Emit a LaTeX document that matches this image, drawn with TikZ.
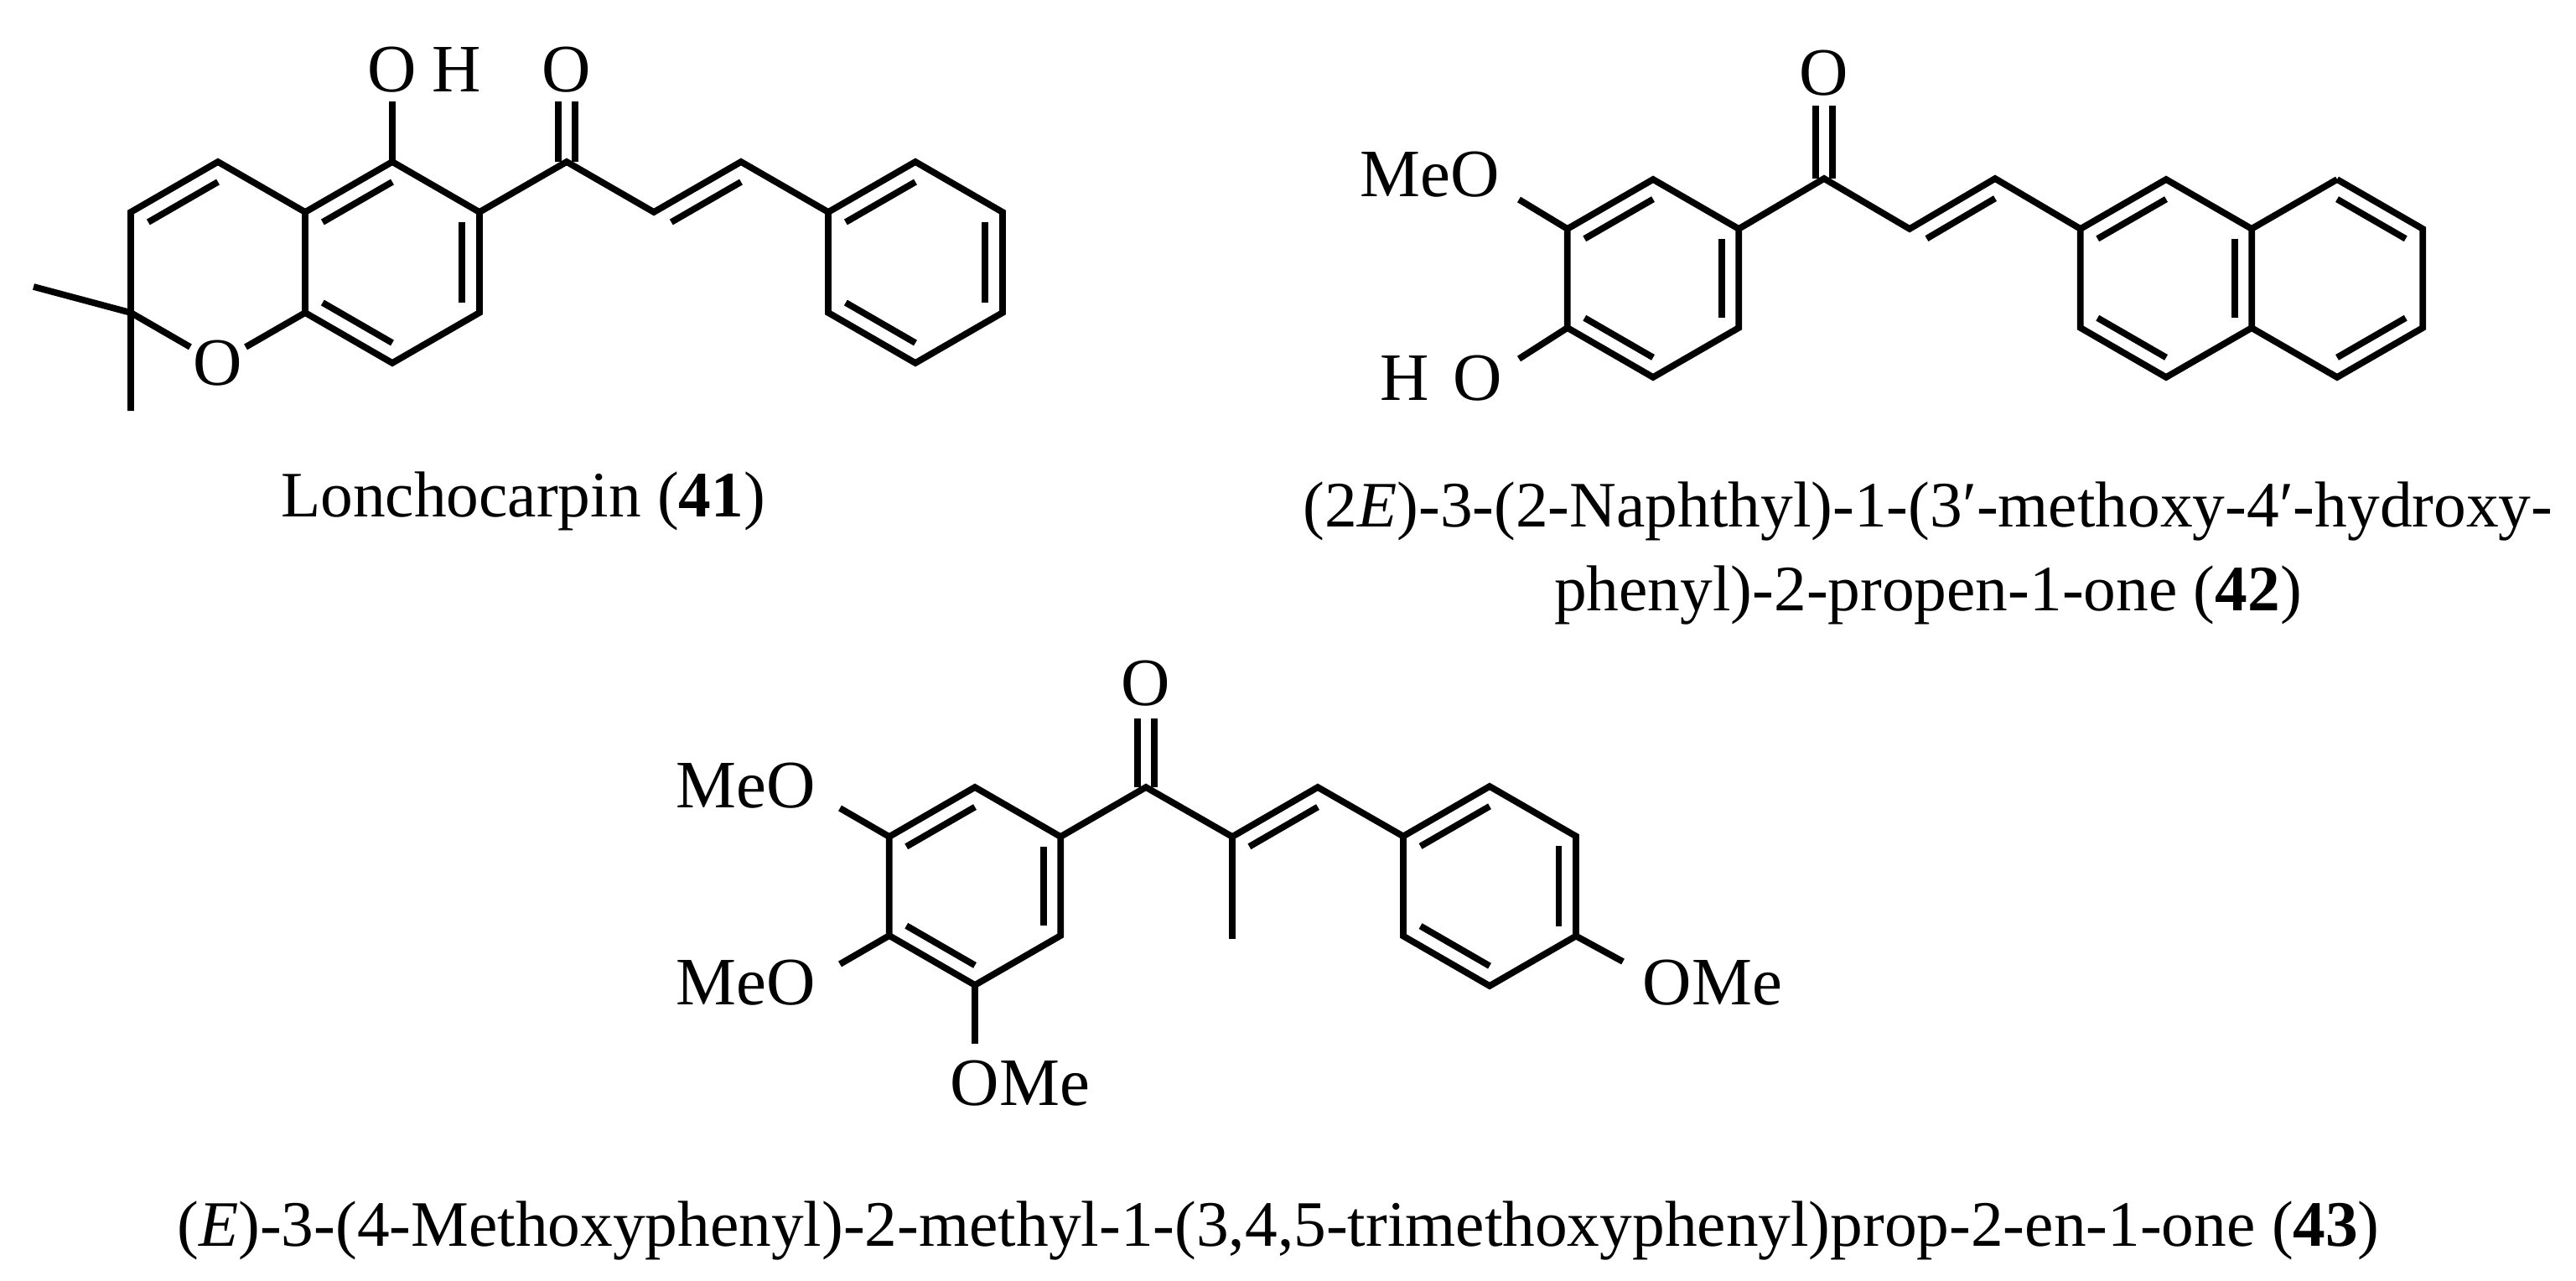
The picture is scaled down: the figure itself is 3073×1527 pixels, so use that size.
\documentclass[tikz,border=0pt]{standalone}
\usepackage{fontspec}
\setmainfont{Liberation Serif}
\usetikzlibrary{calc}
\newcommand\hexring[4]{%
\path (#2,#3) coordinate (#1c) +(0,-#4) coordinate (#11) +({0.866*#4},{-0.5*#4}) coordinate (#12)
 +({0.866*#4},{0.5*#4}) coordinate (#13) +(0,#4) coordinate (#14)
 +({-0.866*#4},{0.5*#4}) coordinate (#15) +({-0.866*#4},{-0.5*#4}) coordinate (#16);}
\newcommand\inb[3]{\draw ($(#1)!0.2!(#3)$) -- ($(#2)!0.2!(#3)$);}
\newcommand\cdo[2]{\draw ($(#1)+(-10,0)$) -- ($(#2)+(-10,0)$); \draw ($(#1)+(10,0)$) -- ($(#2)+(10,0)$);}
\tikzset{atom/.style={inner sep=0pt,font=\fontsize{23}{26}\selectfont},
 captext/.style={inner sep=0pt,align=center,font=\fontsize{22}{40}\selectfont}}
\begin{document}
\begin{tikzpicture}[x=0.01cm,y=-0.01cm,line width=2.2pt,line join=miter]
\useasboundingbox (0,0) rectangle (3073,1527);
% ---------- 41 ----------
\hexring{A}{468}{313}{120}
\hexring{P}{260}{313}{120}
\hexring{F}{1092}{313}{120}
\coordinate (co41) at (676,193);
\coordinate (al41) at (780,253);
\coordinate (be41) at (884,193);
\coordinate (bec41) at (884,313);
\node[atom] (o41) at (P4) {O};
\draw (A1)--(A2)--(A3)--(A4)--(A5)--(A6)--cycle;
\inb{A6}{A1}{Ac}\inb{A2}{A3}{Ac}\inb{A5}{A4}{Ac}
\draw (A6)--(P1)--(P6)--(P5);
\inb{P6}{P1}{Pc}
\draw (P5)--(o41); \draw (o41)--(A5);
\coordinate (me1) at (40,342); \coordinate (me2) at (156,490);
\draw (me1)--(P5)--(me2);
\coordinate (ohb) at (468,121);
\draw (A1)--(ohb);
\node[atom] (oh41) at (468,83) {O};
\node[atom] (h41) at (545,83) {H};
\coordinate (cot41) at (676,121);
\cdo{co41}{cot41}
\node[atom] (ox41) at (676,83) {O};
\draw (A2)--(co41)--(al41)--(be41)--(F6);
\inb{al41}{be41}{bec41}
\draw (F1)--(F2)--(F3)--(F4)--(F5)--(F6)--cycle;
\inb{F6}{F1}{Fc}\inb{F2}{F3}{Fc}\inb{F5}{F4}{Fc}
\node[captext] (cap41) at (624,598) {Lonchocarpin (\textbf{41})};
% ---------- 42 ----------
\hexring{B}{1972}{332}{118}
\hexring{N}{2584}{332}{118}
\hexring{M}{2788}{332}{118}
\coordinate (co42) at (2176,213);
\coordinate (al42) at (2278,273);
\coordinate (be42) at (2380,213);
\coordinate (bec42) at (2380,331);
\draw (B1)--(B2)--(B3)--(B4)--(B5)--(B6)--cycle;
\inb{B6}{B1}{Bc}\inb{B2}{B3}{Bc}\inb{B5}{B4}{Bc}
\coordinate (meob42) at (1812,238);
\draw (B6)--(meob42);
\node[atom] (meo42) at (1706,208) {MeO};
\coordinate (hob42) at (1812,428);
\draw (B5)--(hob42);
\node[atom] (h42) at (1676,451) {H};
\node[atom] (oh42) at (1763,451) {O};
\coordinate (cot42) at (2176,126);
\cdo{co42}{cot42}
\node[atom] (ox42) at (2176,87) {O};
\draw (B2)--(co42)--(al42)--(be42)--(N6);
\inb{al42}{be42}{bec42}
\draw (N1)--(N2)--(N3)--(N4)--(N5)--(N6)--cycle;
\draw (M1)--(M2)--(M3)--(M4)--(M5);
\draw (M6)--(M1);
\inb{N6}{N1}{Nc}\inb{N2}{N3}{Nc}\inb{N5}{N4}{Nc}
\inb{M1}{M2}{Mc}\inb{M3}{M4}{Mc}
\node[captext] (cap42a) at (2300,610) {(2\textit{E})-3-(2-Naphthyl)-1-(3′-methoxy-4′-hydroxy-};
\node[captext] (cap42b) at (2300,710) {phenyl)-2-propen-1-one (\textbf{42})};
% ---------- 43 ----------
\hexring{C}{1163}{1057}{118}
\hexring{D}{1777}{1057}{119}
\coordinate (co43) at (1367,939);
\coordinate (al43) at (1470,998);
\coordinate (be43) at (1572,939);
\coordinate (bec43) at (1572,1057);
\draw (C1)--(C2)--(C3)--(C4)--(C5)--(C6)--cycle;
\inb{C6}{C1}{Cc}\inb{C2}{C3}{Cc}\inb{C5}{C4}{Cc}
\coordinate (m1b) at (1002,964); \draw (C6)--(m1b);
\node[atom] (meo43a) at (890,937) {MeO};
\coordinate (m2b) at (1002,1150); \draw (C5)--(m2b);
\node[atom] (meo43b) at (890,1172) {MeO};
\coordinate (m3b) at (1163,1245); \draw (C4)--(m3b);
\node[atom] (ome43a) at (1217,1292) {OMe};
\coordinate (cot43) at (1367,857);
\cdo{co43}{cot43}
\node[atom] (ox43) at (1367,815) {O};
\coordinate (mea43) at (1470,1120);
\draw (al43)--(mea43);
\draw (C2)--(co43)--(al43)--(be43)--(D6);
\inb{al43}{be43}{bec43}
\draw (D1)--(D2)--(D3)--(D4)--(D5)--(D6)--cycle;
\inb{D6}{D1}{Dc}\inb{D2}{D3}{Dc}\inb{D5}{D4}{Dc}
\coordinate (m4b) at (1936,1147); \draw (D3)--(m4b);
\node[atom] (ome43b) at (2043,1172) {OMe};
\node[captext] (cap43) at (1525,1468) {(\textit{E})-3-(4-Methoxyphenyl)-2-methyl-1-(3,4,5-trimethoxyphenyl)prop-2-en-1-one (\textbf{43})};
\end{tikzpicture}
\end{document}
